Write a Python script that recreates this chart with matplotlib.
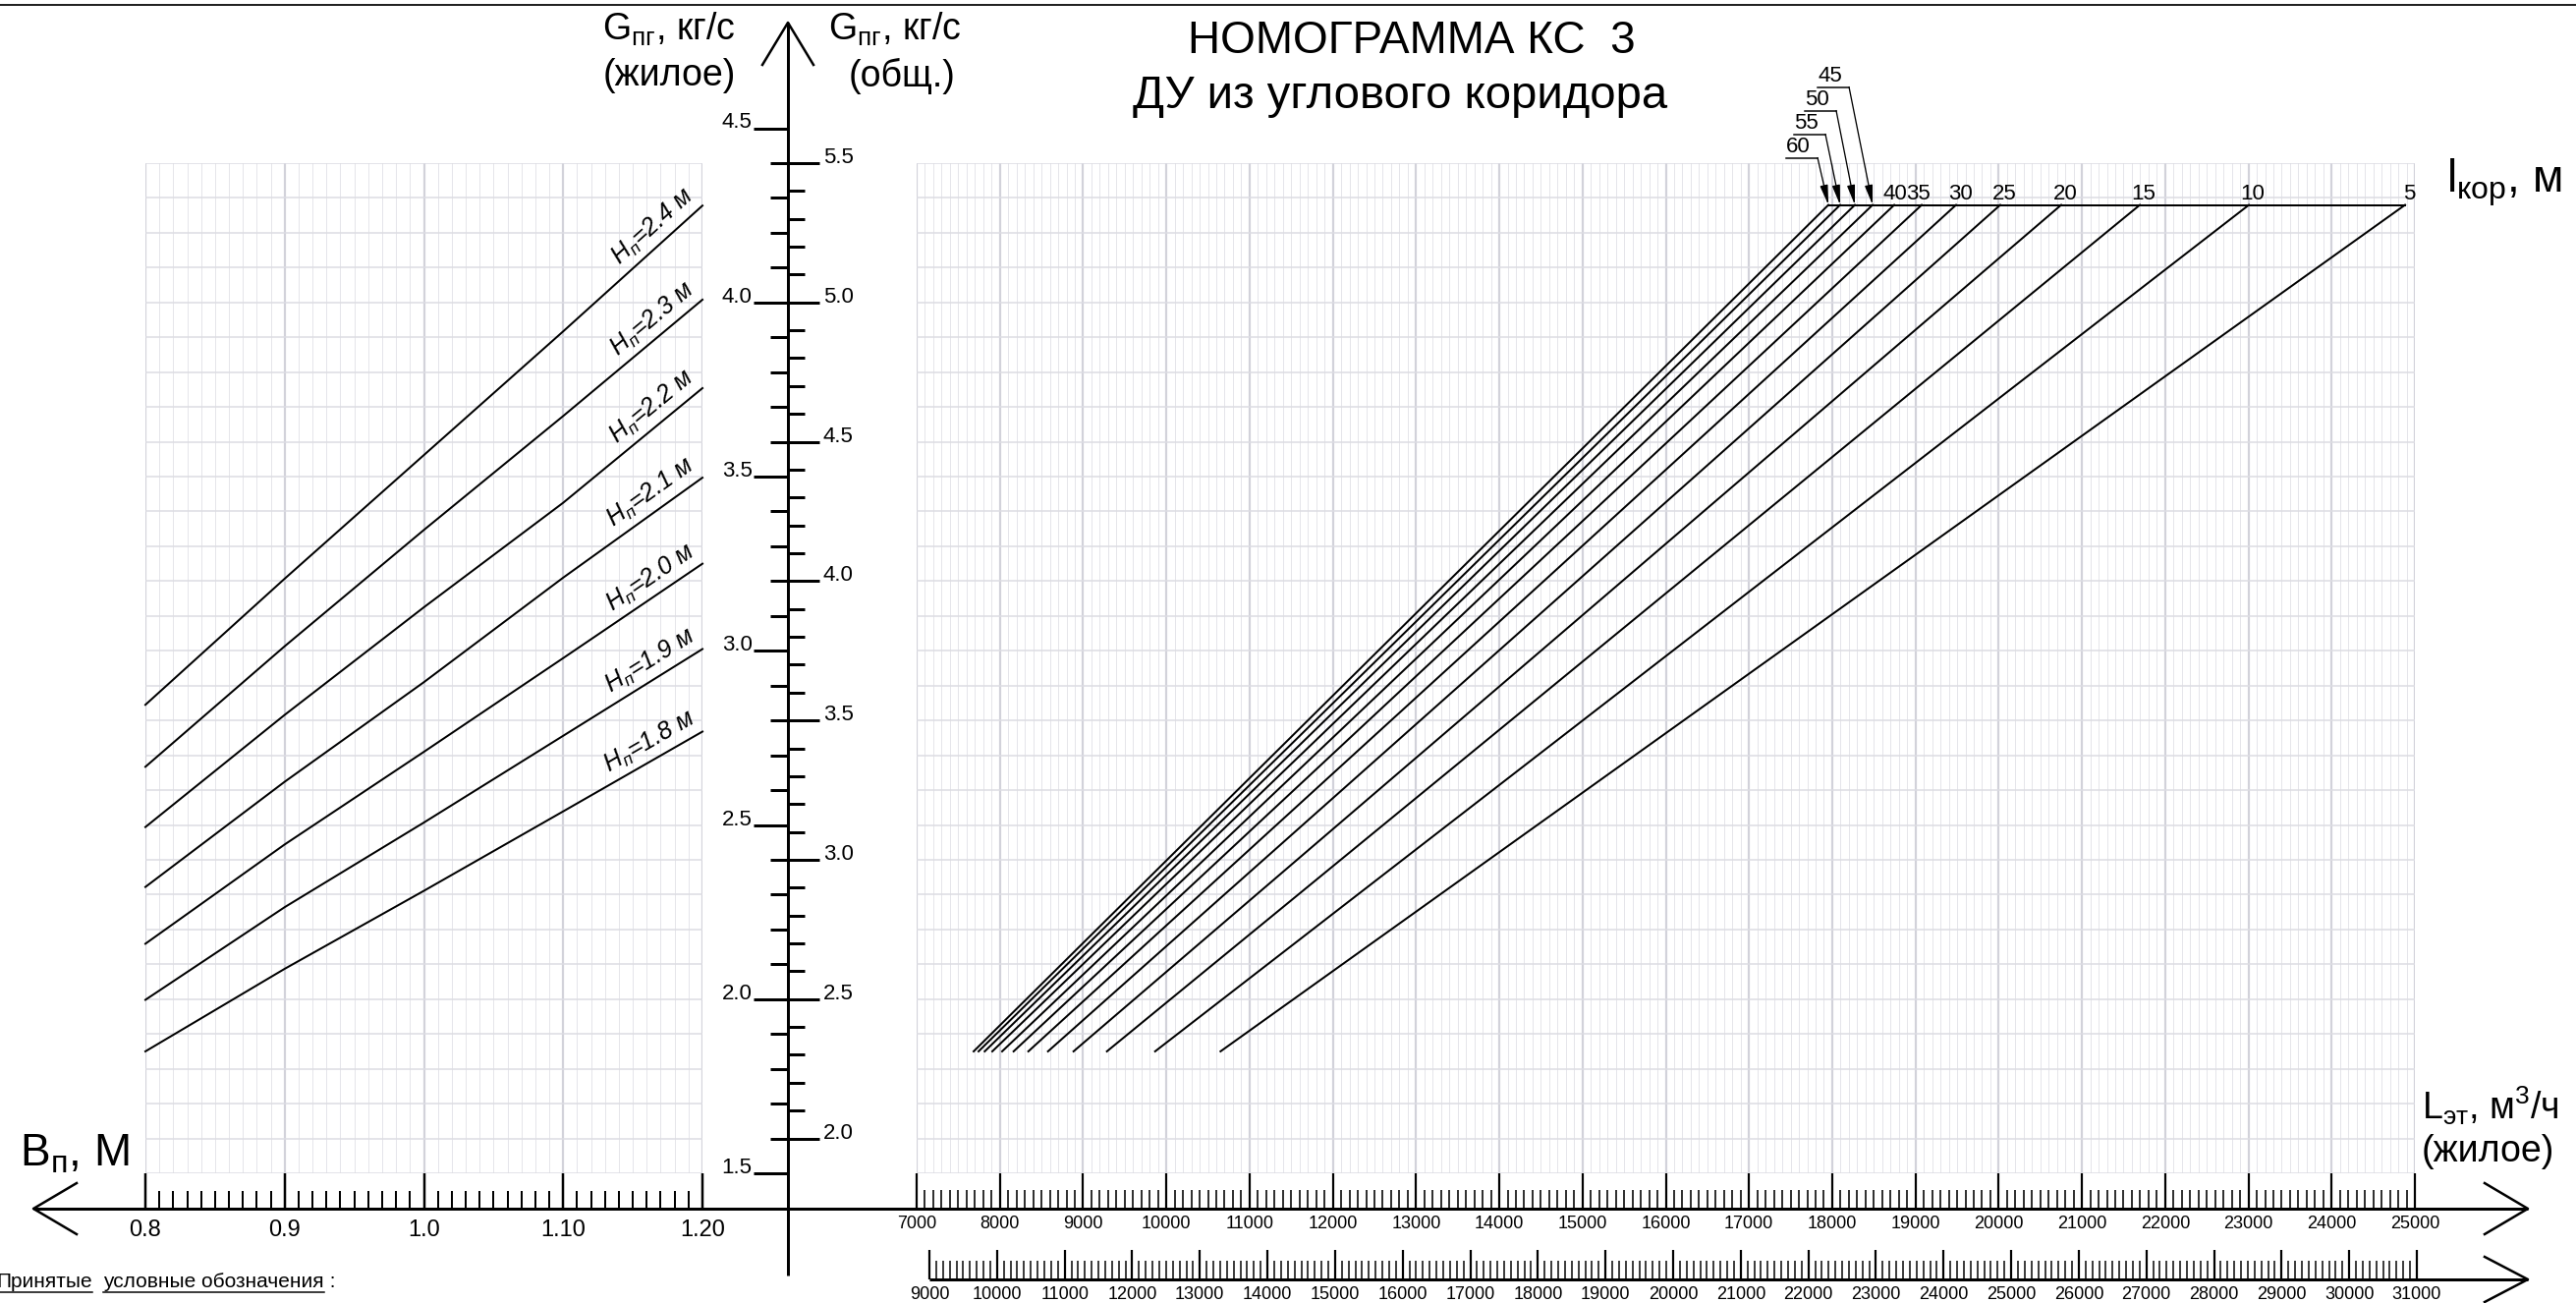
import numpy as np
import matplotlib
matplotlib.use('Agg')
import matplotlib.pyplot as plt
import matplotlib.transforms as mtransforms
from matplotlib.ticker import FixedLocator, FixedFormatter, MultipleLocator

plt.rcParams['font.family'] = ['Liberation Sans', 'DejaVu Sans']
plt.rcParams['mathtext.fontset'] = 'custom'
plt.rcParams['mathtext.rm'] = 'Liberation Sans'
plt.rcParams['mathtext.it'] = 'Liberation Sans:italic'
plt.rcParams['mathtext.bf'] = 'Liberation Sans:bold'

# ---- data ----
# left panel: G (жилое) vs B_п for each door height H_п
b_values = [0.8, 0.9, 1.0, 1.1, 1.2]
h_values = [2.4, 2.3, 2.2, 2.1, 2.0, 1.9, 1.8]
g_h24 = [2.845, 3.207, 3.562, 3.917, 4.278]
g_h23 = [2.667, 3.013, 3.347, 3.674, 4.008]
g_h22 = [2.494, 2.816, 3.125, 3.425, 3.754]
g_h21 = [2.322, 2.624, 2.910, 3.210, 3.497]
g_h20 = [2.159, 2.444, 2.710, 2.979, 3.250]
g_h19 = [1.998, 2.264, 2.507, 2.756, 3.005]
g_h18 = [1.850, 2.087, 2.311, 2.539, 2.768]
h_curves = [g_h24, g_h23, g_h22, g_h21, g_h20, g_h19, g_h18]

# right panel: L_эт lines for each corridor length l_кор
l_kor = [5, 10, 15, 20, 25, 30, 35, 40, 45, 50, 55, 60]
l_et_bottom = [10651, 9865, 9286, 8885, 8578, 8342, 8165, 8027, 7909, 7818, 7744, 7685]
l_et_top = [24882, 23006, 21696, 20751, 20019, 19488, 19075, 18745, 18485, 18272, 18095, 17954]
g_line_bottom = 1.85
g_line_top = 4.28

# scales
b_ticks = [0.8, 0.9, 1.0, 1.1, 1.2]
b_labels = ['0.8', '0.9', '1.0', '1.10', '1.20']
l_ticks = list(range(7000, 25001, 1000))
l2_ticks = list(range(9000, 31001, 1000))
g_res_ticks = [1.5, 2.0, 2.5, 3.0, 3.5, 4.0, 4.5]
g_all_ticks = [2.0, 2.5, 3.0, 3.5, 4.0, 4.5, 5.0, 5.5]
g_ratio = 1.25  # G(общ.) / G(жилое)

# ---- layout (pixels) ----
W, H = 2622, 1326
PT = 0.72
PX_G = 354.5
Y_G15 = 1194


def y_of(g):
    return Y_G15 - (g - 1.5) * PX_G


def rect(x0, x1, ytop, ybot):
    return [x0 / W, 1 - ybot / H, (x1 - x0) / W, (ybot - ytop) / H]


fig = plt.figure(figsize=(W / 100, H / 100), dpi=100)


def grid_panel(ax, major_loc, minor_step):
    ax.xaxis.set_major_locator(major_loc)
    ax.xaxis.set_minor_locator(MultipleLocator(minor_step))
    ax.yaxis.set_major_locator(MultipleLocator(0.1))
    ax.grid(True, which='major', axis='x', color='#d2d2da', lw=2.2 * PT)
    ax.grid(True, which='minor', axis='x', color='#e5e5ea', lw=1 * PT)
    ax.grid(True, which='major', axis='y', color='#dcdce2', lw=1.5 * PT)
    ax.set_axisbelow(True)
    for s in ax.spines.values():
        s.set_visible(False)
    ax.tick_params(axis='y', which='both', length=0, labelleft=False)
    ax.tick_params(axis='x', which='both', top=False, direction='in', colors='black')


# left panel
ax_l = fig.add_axes(rect(148, 715, 166, 1194))
ax_l.set_xlim(0.8, 1.2)
ax_l.set_ylim(1.5, 4.4)
grid_panel(ax_l, FixedLocator(b_ticks), 0.01)
ax_l.xaxis.set_major_formatter(FixedFormatter(b_labels))
ax_l.spines['bottom'].set_position(('outward', 37 * PT))
ax_l.tick_params(axis='x', which='major', length=37 * PT, width=2.5 * PT, labelsize=17, pad=7)
ax_l.tick_params(axis='x', which='minor', length=19 * PT, width=2 * PT)

for g in h_curves:
    ax_l.plot(b_values, g, color='black', lw=2 * PT, clip_on=False)

for h, g in zip(h_values, h_curves):
    p = ax_l.transData.transform([(b_values[-2], g[-2]), (b_values[-1], g[-1])])
    ang = np.degrees(np.arctan2(p[1, 1] - p[0, 1], p[1, 0] - p[0, 0]))
    off = 11 * PT
    tr = mtransforms.offset_copy(ax_l.transData, fig=fig, units='points',
                                 x=-np.sin(np.radians(ang)) * off,
                                 y=np.cos(np.radians(ang)) * off)
    ax_l.text(b_values[-1], g[-1], '$Н_{п}$=' + f'{h:.1f} м', transform=tr,
              rotation=ang, rotation_mode='anchor', ha='right', va='baseline',
              fontsize=18, style='italic', clip_on=False)

# right panel
ax_r = fig.add_axes(rect(933, 2458, 166, 1194))
ax_r.set_xlim(7000, 25000)
ax_r.set_ylim(1.5, 4.4)
grid_panel(ax_r, FixedLocator(l_ticks), 100)
ax_r.spines['bottom'].set_position(('outward', 35 * PT))
ax_r.tick_params(axis='x', which='major', length=35 * PT, width=2.2 * PT, labelsize=13, pad=6)
ax_r.tick_params(axis='x', which='minor', length=18 * PT, width=1.6 * PT)

for lb, lt in zip(l_et_bottom, l_et_top):
    ax_r.plot([lb, lt], [g_line_bottom, g_line_top], color='black', lw=2 * PT)
ax_r.plot([min(l_et_top), max(l_et_top)], [g_line_top, g_line_top], color='black', lw=2 * PT)

# numbers over the l_кор scale (35 and 40 sit close together, as in the original)
label_shift = {35: -4, 40: 1}
for lk, lt in zip(l_kor, l_et_top):
    if lk <= 40:
        ax_r.annotate(str(lk), xy=(lt, g_line_top),
                      xytext=(label_shift.get(lk, 4) * PT, 6 * PT),
                      textcoords='offset points', ha='center', va='baseline', fontsize=16)

# leader labels for the crowded lines (45..60)
leader_kor = [45, 50, 55, 60]
leader_dx = [-24, -19, -15, -11]   # px, elbow relative to line top
leader_dy = [120, 96, 72, 48]      # px, elbow above the l_кор scale
for lk, dx, dy in zip(leader_kor, leader_dx, leader_dy):
    lt = l_et_top[l_kor.index(lk)]
    base = ax_r.transData.transform((lt, g_line_top))
    ex, ey = base[0] + dx, base[1] + dy
    inv = ax_r.transData.inverted()
    elbow = inv.transform((ex, ey))
    start = inv.transform((ex - 32, ey))
    ax_r.plot([start[0], elbow[0]], [start[1], elbow[1]], color='black', lw=1.5 * PT, clip_on=False)
    ax_r.annotate('', xy=(lt, g_line_top), xytext=elbow,
                  arrowprops=dict(arrowstyle='-|>,head_length=0.6,head_width=0.12',
                                  mutation_scale=20, color='black', lw=1.3 * PT,
                                  shrinkA=0, shrinkB=0), annotation_clip=False)
    ax_r.text(start[0], start[1], str(lk), ha='left', va='bottom', fontsize=16,
              transform=mtransforms.offset_copy(ax_r.transData, fig=fig, y=0.5, units='points'),
              clip_on=False)

# second L axis (общ.)
ax_l2 = fig.add_axes(rect(946, 2460, 1262, 1302))
ax_l2.set_xlim(9000, 31000)
ax_l2.set_ylim(0, 1)
ax_l2.patch.set_visible(False)
for s in ax_l2.spines.values():
    s.set_visible(False)
ax_l2.xaxis.set_major_locator(FixedLocator(l2_ticks))
ax_l2.xaxis.set_minor_locator(MultipleLocator(100))
ax_l2.tick_params(axis='y', which='both', left=False, labelleft=False)
ax_l2.tick_params(axis='x', which='major', direction='in', length=30 * PT, width=2.2 * PT,
                  labelsize=13, pad=5)
ax_l2.tick_params(axis='x', which='minor', direction='in', length=19 * PT, width=1.5 * PT)

# vertical G scales
g_lo, g_hi = 1.45, 4.55
ax_g = fig.add_axes(rect(802, 802.5, y_of(g_hi), y_of(g_lo)))
ax_g.set_ylim(g_lo, g_hi)
ax_g.patch.set_visible(False)
for s in ax_g.spines.values():
    s.set_visible(False)
ax_g.xaxis.set_visible(False)
ax_g.yaxis.set_major_locator(FixedLocator(g_res_ticks))
ax_g.yaxis.set_major_formatter(FixedFormatter([f'{v:.1f}' for v in g_res_ticks]))
ax_g.yaxis.set_minor_locator(MultipleLocator(0.1))
ax_g.tick_params(axis='y', which='major', direction='out', length=35 * PT, width=3 * PT,
                 labelsize=16, pad=1)
ax_g.tick_params(axis='y', which='minor', direction='out', length=18 * PT, width=3 * PT)
for lab in ax_g.get_yticklabels():
    lab.set_verticalalignment('baseline')

ax_g2 = fig.add_axes(rect(802, 802.5, y_of(g_hi), y_of(g_lo)))
ax_g2.set_ylim(g_lo * g_ratio, g_hi * g_ratio)
ax_g2.patch.set_visible(False)
for s in ax_g2.spines.values():
    s.set_visible(False)
ax_g2.xaxis.set_visible(False)
ax_g2.yaxis.tick_right()
ax_g2.yaxis.set_major_locator(FixedLocator(g_all_ticks))
ax_g2.yaxis.set_major_formatter(FixedFormatter([f'{v:.1f}' for v in g_all_ticks]))
ax_g2.yaxis.set_minor_locator(FixedLocator(np.arange(20, 56) / 10))
ax_g2.tick_params(axis='y', which='major', direction='out', length=31 * PT, width=3 * PT,
                  labelsize=16, pad=3)
ax_g2.tick_params(axis='y', which='minor', direction='out', length=16 * PT, width=3 * PT)
for lab in ax_g2.get_yticklabels():
    lab.set_verticalalignment('baseline')

# ---- overlay: axis lines, arrows, titles ----
ax_o = fig.add_axes([0, 0, 1, 1], zorder=10)
ax_o.set_xlim(0, W)
ax_o.set_ylim(H, 0)
ax_o.axis('off')

k = dict(color='black', solid_capstyle='butt')
ax_o.plot([0, W], [5, 5], color='#222222', lw=2 * PT)
ax_o.plot([802, 802], [23, 1298], lw=3 * PT, **k)
ax_o.plot([776, 802, 828], [66, 23, 66], lw=2.5 * PT, color='black')
ax_o.plot([34, 2573], [1230, 1230], lw=3 * PT, **k)
ax_o.plot([78, 34, 78], [1204, 1230, 1256], lw=2.5 * PT, color='black')
ax_o.plot([2529, 2573, 2529], [1204, 1230, 1256], lw=2.5 * PT, color='black')
ax_o.plot([946, 2573], [1302, 1302], lw=3 * PT, **k)
ax_o.plot([2529, 2573, 2529], [1279, 1302, 1325], lw=2.5 * PT, color='black')

ax_o.text(1437, 54, 'НОМОГРАММА КС  3', fontsize=33, ha='center', va='baseline')
ax_o.text(1425, 110, 'ДУ из углового коридора', fontsize=34, ha='center', va='baseline')

ax_o.text(681, 30, r'G$_{\mathrm{пг}}$, кг/с', fontsize=27, ha='center', va='center')
ax_o.text(681, 77, '(жилое)', fontsize=27, ha='center', va='center')
ax_o.text(911, 30, r'G$_{\mathrm{пг}}$, кг/с', fontsize=27, ha='center', va='center')
ax_o.text(918, 77, '(общ.)', fontsize=27, ha='center', va='center')

ax_o.text(20, 1187, r'В$_{\mathrm{п}}$, М', fontsize=33, ha='left', va='baseline')
ax_o.text(2465, 1125, r'L$_{\mathrm{эт}}$, м$^{3}$/ч', fontsize=27, ha='left', va='center')
ax_o.text(2465, 1172, '(жилое)', fontsize=27, ha='left', va='center')
ax_o.text(2490, 195, r'l$_{\mathrm{кор}}$, м', fontsize=33, ha='left', va='baseline')

# legend caption with underlined words
renderer = fig.canvas.get_renderer()
x = -4
for piece, underline in [('Принятые', True), ('  ', False),
                         ('условные обозначения', True), (' :', False)]:
    t = ax_o.text(x, 1310, piece, fontsize=15, ha='left', va='baseline')
    bb = t.get_window_extent(renderer)
    if underline:
        ax_o.plot([x, x + bb.width], [1315, 1315], color='black', lw=1.5 * PT)
    x += bb.width

fig.savefig('out.png', dpi=100)
